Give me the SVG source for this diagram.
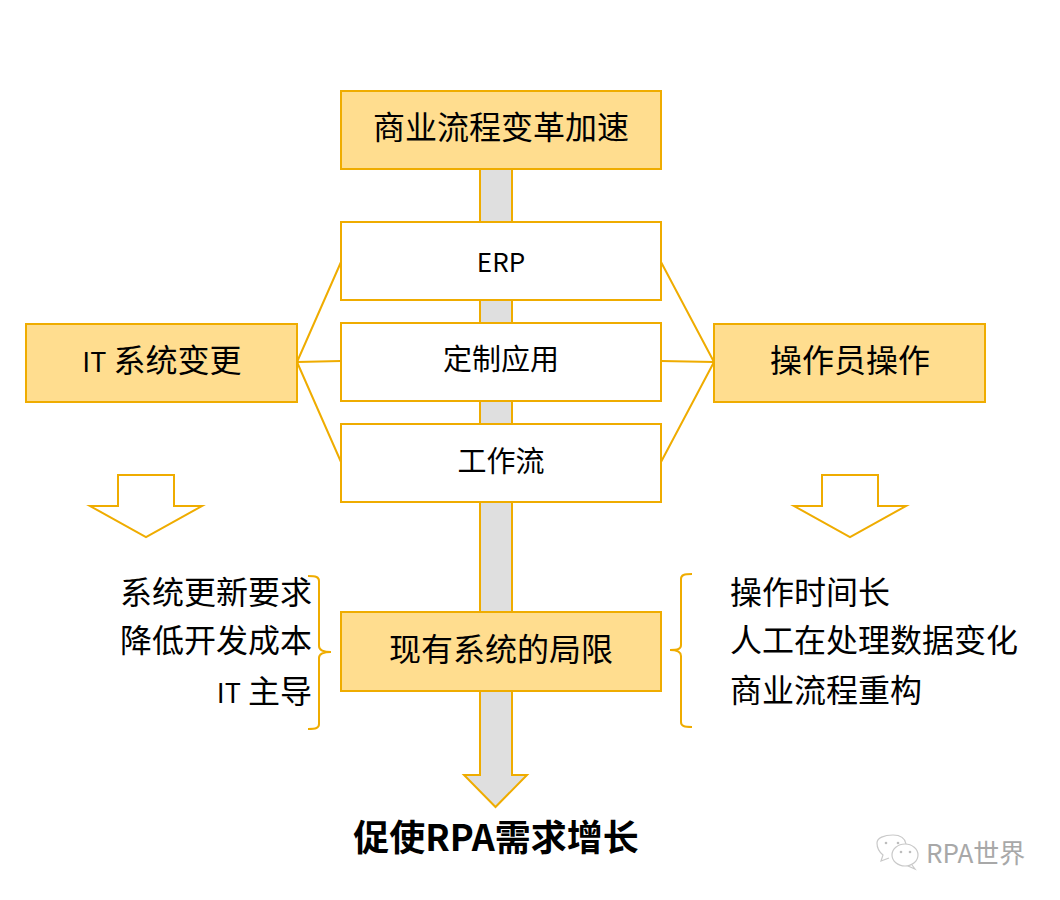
<svg xmlns="http://www.w3.org/2000/svg" width="1060" height="900" viewBox="0 0 1060 900">
<style>
text{font-family:"Microsoft YaHei","Noto Sans CJK SC","Open Sans",sans-serif;fill:#000}
.y{fill:#ffdd8f;stroke:#efac00;stroke-width:2}
.w{fill:#fff;stroke:#efac00;stroke-width:2}
.l{fill:none;stroke:#efac00;stroke-width:2}
.m{text-anchor:middle}
.t30{font-size:32px}
.t28{font-size:29px}
.t26{font-size:26px}
.r{text-anchor:end;font-size:32px}
.s{font-size:32px}
.lat{font-size:27px}
.dot{fill:#bdbdbd;stroke:none}
</style>
<rect width="1060" height="900" fill="#fff"/>
<g id="connectors">
<path id="main-arrow" d="M480 169H512V775H527L495.500 807L464 775H480Z" fill="#dfdfdf" stroke="#efac00" stroke-width="2"/>
<path class="l" d="M297 362L341 262M297 362L341 361M297 362L341 462M714 362L661 262M714 362L661 361M714 362L661 462"/>
<path class="l" d="M308 576C316 576 319 577 319 581V646C319 650 322 652 331 652C322 652 319 654 319 658V724C319 728 316 729 308 729"/>
<path class="l" d="M692 574C684 574 681 575 681 579V645C681 649 678 650 670 650C678 650 681 652 681 656V722C681 726 684 727 692 727"/>
<path class="l" d="M118 475H174V506H202L146 537L90 506H118Z"/>
<path class="l" d="M822 475H878V506H906L850 537L794 506H822Z"/>
</g>
<g id="n1"><rect class="y" x="341" y="91" width="320" height="78"/><text class="m t30" x="501" y="139">商业流程变革加速</text></g>
<g id="n2"><rect class="w" x="341" y="222" width="320" height="78"/><text class="m t26" x="501" y="272">ERP</text></g>
<g id="n3"><rect class="w" x="341" y="323" width="320" height="78"/><text class="m t28" x="501" y="370">定制应用</text></g>
<g id="n4"><rect class="w" x="341" y="424" width="320" height="78"/><text class="m t28" x="501" y="472">工作流</text></g>
<g id="n5"><rect class="y" x="26" y="324" width="271" height="78"/><text class="m t30" x="162" y="372"><tspan class="lat">IT</tspan> 系统变更</text></g>
<g id="n6"><rect class="y" x="714" y="324" width="271" height="78"/><text class="m t30" x="850" y="372">操作员操作</text></g>
<g id="n7"><rect class="y" x="341" y="612" width="320" height="79"/><text class="m t30" x="501" y="661">现有系统的局限</text></g>
<g id="left-list"><text class="r" x="312" y="604">系统更新要求</text><text class="r" x="312" y="652">降低开发成本</text><text class="r" x="312" y="703"><tspan class="lat">IT</tspan> 主导</text></g>
<g id="right-list"><text class="s" x="730" y="604">操作时间长</text><text class="s" x="730" y="652">人工在处理数据变化</text><text class="s" x="730" y="702">商业流程重构</text></g>
<g id="result"><text class="m" x="496" y="851" font-size="36" font-weight="700">促使RPA需求增长</text></g>
<g id="watermark" fill="none" stroke="#c9c9c9" stroke-width="1.2">
<path d="M889 858L881 861L883 855C878 851 877 847 877 843C877 838 884 835 893 835C901 835 905 838 906 844"/>
<ellipse cx="905" cy="855" rx="13" ry="11" fill="#fff"/>
<path d="M912 865L915 869L908 866"/>
<circle class="dot" cx="886" cy="843" r="1.300"/><circle class="dot" cx="898" cy="843" r="1.300"/><circle class="dot" cx="901" cy="852" r="1.300"/><circle class="dot" cx="910" cy="852" r="1.300"/>
<text x="926" y="863" font-size="26" stroke="none" style="fill:#a8a8a8">RPA世界</text>
</g>
</svg>
